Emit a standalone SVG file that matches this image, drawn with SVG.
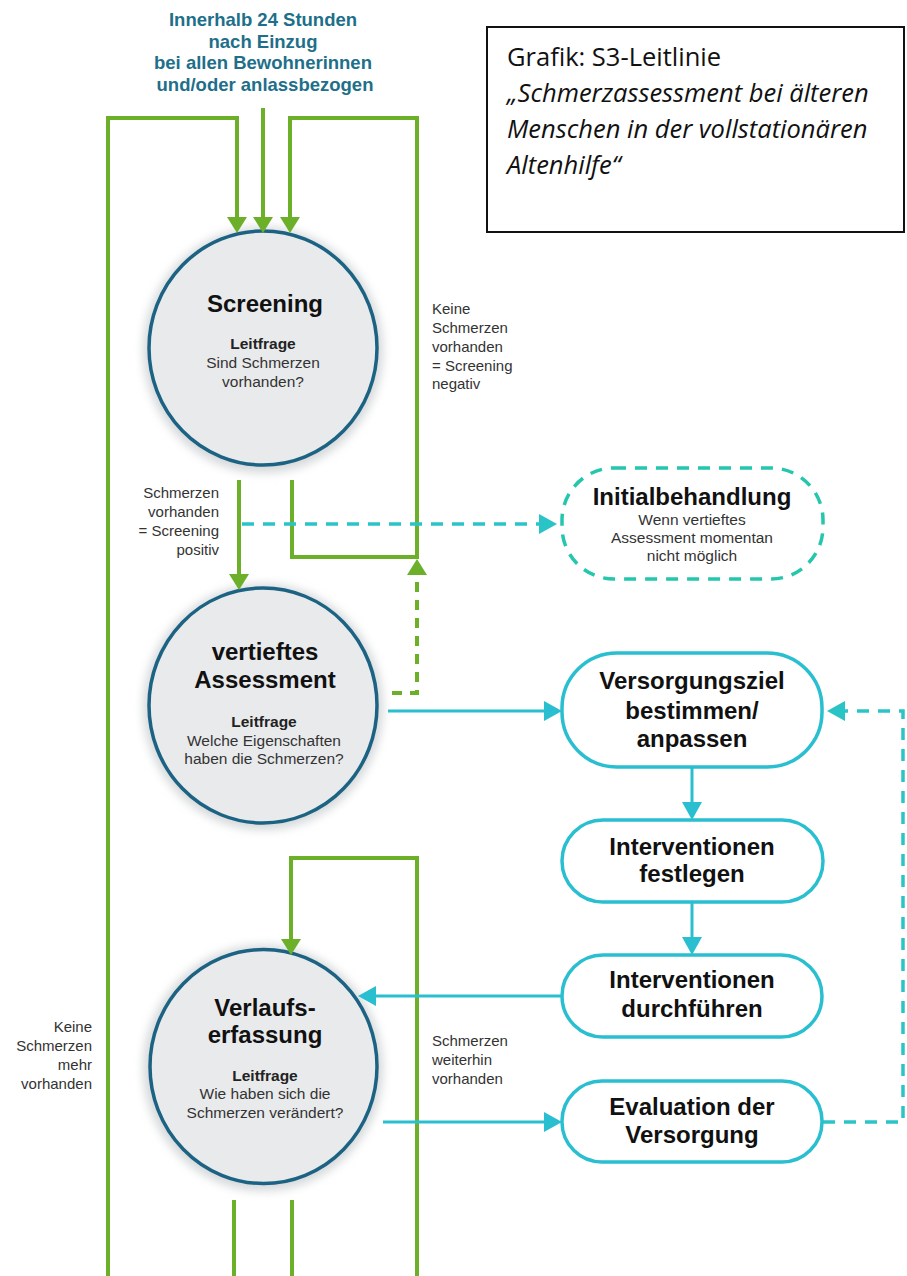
<svg xmlns="http://www.w3.org/2000/svg" width="907" height="1276" viewBox="0 0 907 1276">
<style>
.hdr{font-family:"Liberation Sans",Arial,sans-serif;font-weight:bold;font-size:18.5px;fill:#1e6f8a;text-anchor:middle}
.ttl{font-family:"Liberation Sans",Arial,sans-serif;font-weight:bold;font-size:24px;fill:#111;text-anchor:middle}
.lf{font-family:"Liberation Sans",Arial,sans-serif;font-weight:bold;font-size:15.5px;fill:#222;text-anchor:middle}
.body{font-family:"Liberation Sans",Arial,sans-serif;font-size:15.5px;fill:#333;text-anchor:middle}
.lbl{font-family:"Liberation Sans",Arial,sans-serif;font-size:15px;fill:#333}
.r{text-anchor:end}
.src{font-family:"Open Sans","Noto Sans",sans-serif;font-size:25.5px;fill:#111}
.it{font-style:italic}
.circ{fill:#e9eaec;stroke:#1c6383;stroke-width:3.5}
.halo{fill:#d6d8da;filter:url(#blur)}
.box{fill:#fff;stroke:#29bfd0;stroke-width:3.5}
.boxd{fill:#fff;stroke:#25c6ae;stroke-width:3.5;stroke-dasharray:12 9}
.g{fill:none;stroke:#6cb02a;stroke-width:4}
.gd{fill:none;stroke:#6cb02a;stroke-width:4;stroke-dasharray:10 8}
.c{fill:none;stroke:#29bfd0;stroke-width:3}
.cd{fill:none;stroke:#2ac3c6;stroke-width:3.5;stroke-dasharray:12 9}
</style>
<defs>
<filter id="blur" x="-20%" y="-20%" width="140%" height="140%"><feGaussianBlur stdDeviation="5"/></filter>
<marker id="ag" viewBox="0 0 16 20" refX="0" refY="10" markerWidth="16" markerHeight="20" markerUnits="userSpaceOnUse" orient="auto"><path d="M0,0 L16,10 L0,20 Z" fill="#6cb02a"/></marker>
<marker id="ac" viewBox="0 0 18 20" refX="0" refY="10" markerWidth="18" markerHeight="20" markerUnits="userSpaceOnUse" orient="auto"><path d="M0,0 L18,10 L0,20 Z" fill="#29bfd0"/></marker>
<marker id="acd" viewBox="0 0 18 20" refX="0" refY="10" markerWidth="18" markerHeight="20" markerUnits="userSpaceOnUse" orient="auto"><path d="M0,0 L18,10 L0,20 Z" fill="#2ac3c6"/></marker>
</defs>
<rect width="907" height="1276" fill="#fff"/>

<g id="header">
<text class="hdr" x="263" y="26">Innerhalb 24 Stunden</text>
<text class="hdr" x="263" y="48">nach Einzug</text>
<text class="hdr" x="263" y="69">bei allen Bewohnerinnen</text>
<text class="hdr" x="265" y="91">und/oder anlassbezogen</text>
</g>

<g id="source">
<rect x="487" y="27" width="417" height="205" fill="#fff" stroke="#111" stroke-width="2"/>
<text class="src" x="507" y="66">Grafik: S3-Leitlinie</text>
<text class="src it" x="507" y="102">„Schmerzassessment bei älteren</text>
<text class="src it" x="507" y="138">Menschen in der vollstationären</text>
<text class="src it" x="507" y="174">Altenhilfe“</text>
</g>

<g id="screening">
<ellipse class="halo" cx="263" cy="350" rx="120" ry="123"/>
<ellipse class="circ" cx="263" cy="348" rx="114" ry="117"/>
<text class="ttl" x="265" y="312">Screening</text>
<text class="lf" x="263" y="349">Leitfrage</text>
<text class="body" x="263" y="368">Sind Schmerzen</text>
<text class="body" x="263" y="387">vorhanden?</text>
</g>

<g id="assessment">
<ellipse class="halo" cx="263" cy="707" rx="120" ry="123"/>
<ellipse class="circ" cx="263" cy="705.5" rx="114" ry="117.5"/>
<text class="ttl" x="265" y="660">vertieftes</text>
<text class="ttl" x="265" y="688">Assessment</text>
<text class="lf" x="264" y="727">Leitfrage</text>
<text class="body" x="264" y="746">Welche Eigenschaften</text>
<text class="body" x="264" y="764">haben die Schmerzen?</text>
</g>

<g id="verlauf">
<ellipse class="halo" cx="263" cy="1068" rx="120" ry="123"/>
<ellipse class="circ" cx="263.5" cy="1066.5" rx="113.5" ry="117"/>
<text class="ttl" x="265" y="1016">Verlaufs-</text>
<text class="ttl" x="265" y="1043">erfassung</text>
<text class="lf" x="265" y="1081">Leitfrage</text>
<text class="body" x="265" y="1099">Wie haben sich die</text>
<text class="body" x="265" y="1118">Schmerzen verändert?</text>
</g>

<g id="initialbehandlung">
<rect class="boxd" x="562" y="468" width="261" height="111" rx="52"/>
<text class="ttl" x="692" y="505">Initialbehandlung</text>
<text class="body" x="692" y="525">Wenn vertieftes</text>
<text class="body" x="692" y="543">Assessment momentan</text>
<text class="body" x="692" y="561">nicht möglich</text>
</g>

<g id="versorgungsziel">
<rect class="box" x="562" y="653" width="260" height="114" rx="55"/>
<text class="ttl" x="692" y="689">Versorgungsziel</text>
<text class="ttl" x="692" y="719">bestimmen/</text>
<text class="ttl" x="692" y="747">anpassen</text>
</g>

<g id="festlegen">
<rect class="box" x="562" y="820" width="261" height="82" rx="41"/>
<text class="ttl" x="692" y="855">Interventionen</text>
<text class="ttl" x="692" y="882">festlegen</text>
</g>

<g id="durchfuehren">
<rect class="box" x="562" y="955" width="260" height="82" rx="41"/>
<text class="ttl" x="692" y="988">Interventionen</text>
<text class="ttl" x="692" y="1017">durchführen</text>
</g>

<g id="evaluation">
<rect class="box" x="562" y="1081" width="260" height="81" rx="40"/>
<text class="ttl" x="692" y="1115">Evaluation der</text>
<text class="ttl" x="692" y="1143">Versorgung</text>
</g>

<g id="labels">
<text class="lbl" x="432" y="314">Keine</text>
<text class="lbl" x="432" y="333">Schmerzen</text>
<text class="lbl" x="432" y="352">vorhanden</text>
<text class="lbl" x="432" y="371">= Screening</text>
<text class="lbl" x="432" y="389">negativ</text>
<text class="lbl r" x="219" y="498">Schmerzen</text>
<text class="lbl r" x="219" y="517">vorhanden</text>
<text class="lbl r" x="219" y="536">= Screening</text>
<text class="lbl r" x="219" y="555">positiv</text>
<text class="lbl r" x="92" y="1032">Keine</text>
<text class="lbl r" x="92" y="1051">Schmerzen</text>
<text class="lbl r" x="92" y="1070">mehr</text>
<text class="lbl r" x="92" y="1089">vorhanden</text>
<text class="lbl" x="432" y="1046">Schmerzen</text>
<text class="lbl" x="432" y="1065">weiterhin</text>
<text class="lbl" x="432" y="1084">vorhanden</text>
</g>

<g id="connectors">
<path class="g" d="M108,1276 V118 H237 V217" marker-end="url(#ag)"/>
<path class="g" d="M263,108 V217" marker-end="url(#ag)"/>
<path class="g" d="M292,480 V557 H417 V118 H290 V217" marker-end="url(#ag)"/>
<path class="g" d="M239,480 V574" marker-end="url(#ag)"/>
<path class="gd" d="M392,693 H417 V575" marker-end="url(#ag)"/>
<path class="g" d="M417,1276 V858 H291 V939" marker-end="url(#ag)"/>
<path class="g" d="M234,1200 V1276"/>
<path class="g" d="M292,1200 V1276"/>
<path class="cd" d="M242,524 H539" marker-end="url(#acd)"/>
<path class="c" d="M388,711 H544" marker-end="url(#ac)"/>
<path class="cd" d="M823,1122 H903 V711 H845" marker-end="url(#acd)"/>
<path class="c" d="M692,767 V802" marker-end="url(#ac)"/>
<path class="c" d="M692,902 V937" marker-end="url(#ac)"/>
<path class="c" d="M562,996 H376" marker-end="url(#ac)"/>
<path class="c" d="M383,1122 H544" marker-end="url(#ac)"/>
</g>
</svg>
